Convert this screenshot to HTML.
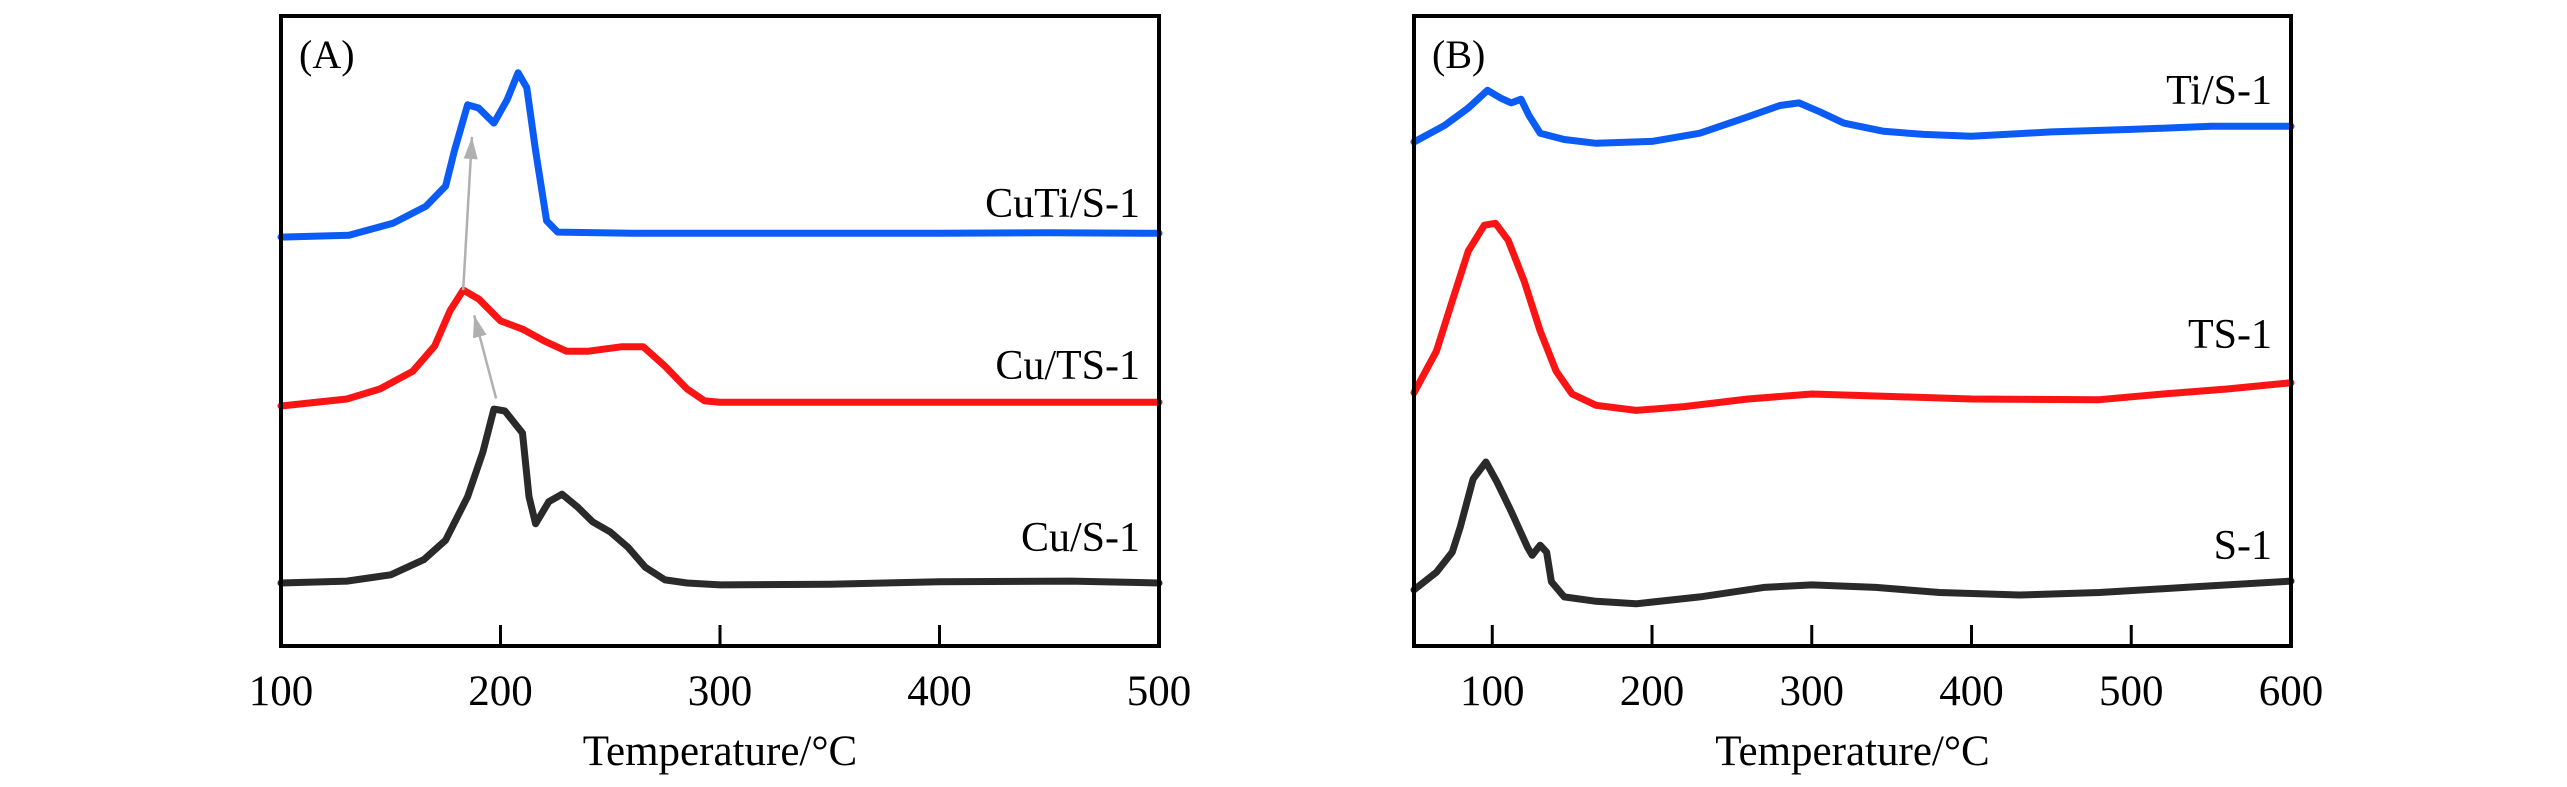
<!DOCTYPE html>
<html><head><meta charset="utf-8"><style>
html,body{margin:0;padding:0;background:#fff;}
svg{display:block;font-family:"Liberation Serif","Times New Roman",serif;}
</style></head><body>
<svg id="chart" width="2567" height="787" viewBox="0 0 2567 787" xmlns="http://www.w3.org/2000/svg"></svg>
<script>
// Panel A data
const aTicks = [100, 200, 300, 400, 500];
const aCuTiT = [100,131,151,166,175,179,185,190,197,203,208,212,216,221,226,260,300,350,400,450,500];
const aCuTiV = [64.9,65.2,67.1,69.8,73.0,78.6,85.9,85.4,83.0,86.7,91.0,88.6,78.6,67.5,65.7,65.5,65.5,65.5,65.5,65.6,65.5];
const aCuTST = [100,130,145,160,170,177,183,190,200,210,220,230,240,255,265,275,285,293,300,350,400,450,500];
const aCuTSV = [38.1,39.2,40.8,43.6,47.6,53.2,56.5,55.1,51.6,50.3,48.4,46.8,46.8,47.5,47.5,44.4,40.8,38.9,38.7,38.7,38.7,38.7,38.7];
const aCuST = [100,130,150,165,175,185,192,197,202,210,213,216,222,228,235,242,250,258,266,275,285,300,350,400,460,500];
const aCuSV = [10.0,10.3,11.3,13.7,16.8,23.7,30.8,37.6,37.3,33.8,23.7,19.4,22.9,24.1,22.1,19.7,18.1,15.7,12.5,10.5,10.0,9.7,9.8,10.2,10.3,10.0];
// arrows: [fromT, fromV, toT, toV]
const aArrow1 = [198, 39.3, 188, 52.5];
const aArrow2 = [183, 56.5, 187, 80.8];
// Panel B data
const bTicks = [100, 200, 300, 400, 500, 600];
const bTiST = [51,70,85,97,105,112,118,123,130,145,165,200,230,260,280,292,305,320,345,370,400,450,500,550,600];
const bTiSV = [80.0,82.6,85.4,88.2,87.0,86.2,86.8,84.2,81.4,80.4,79.8,80.1,81.4,84.0,85.8,86.2,84.8,83.0,81.7,81.2,80.9,81.6,82.0,82.5,82.5];
const bTST = [51,65,75,85,95,102,110,120,130,140,150,165,190,220,260,300,350,400,480,520,560,600];
const bTSV = [40.2,46.8,54.8,62.7,66.8,67.1,64.4,57.9,50.0,43.6,40.0,38.2,37.4,38.0,39.2,40.0,39.6,39.2,39.1,40.0,40.8,41.8];
const bST = [51,65,75,80,88,96,103,112,122,125,130,134,137,145,165,190,230,270,300,340,380,430,480,540,600];
const bSV = [8.9,11.7,14.9,18.9,26.5,29.2,26.0,21.3,15.7,14.4,16.0,14.9,10.2,7.8,7.1,6.7,7.8,9.3,9.7,9.3,8.5,8.1,8.5,9.4,10.3];

const NS = "http://www.w3.org/2000/svg";
const svg = document.getElementById('chart');
function mk(tag, attrs, parent){const e=document.createElementNS(NS,tag);for(const k in attrs)e.setAttribute(k,attrs[k]);(parent||svg).appendChild(e);return e;}

const TOP=16, BOT=646;
function yScale(v){return BOT-(v/100)*(BOT-TOP);}

function panel(cfg){
  const g=mk('g',{});
  
  
  const xs=t=>cfg.left+(t-cfg.xmin)/(cfg.xmax-cfg.xmin)*(cfg.right-cfg.left);
  cfg.series.forEach(s=>{
    let d='';
    s.t.forEach((t,i)=>{d+=(i?'L':'M')+xs(t).toFixed(1)+' '+yScale(s.v[i]).toFixed(1);});
    const p=mk('path',{d:d,fill:'none',stroke:s.color,'stroke-width':7,'stroke-linejoin':'round','stroke-linecap':'round'},g);
    
    
    const lab=mk('text',{x:cfg.right-19,y:s.ly,'text-anchor':'end','font-size':42,fill:'#000'},g);
    lab.textContent=s.label;
    
    
  });
  (cfg.arrows||[]).forEach((a,i)=>{
    const x1=xs(a[0]),y1=yScale(a[1]),x2=xs(a[2]),y2=yScale(a[3]);
    const ln=mk('line',{x1:x1,y1:y1,x2:x2,y2:y2,stroke:'#b0b0b0','stroke-width':2.5},g);
    
    
    const ang=Math.atan2(y2-y1,x2-x1), L=22, W=7;
    const bx=x2-L*Math.cos(ang), by=y2-L*Math.sin(ang);
    const px=-Math.sin(ang)*W, py=Math.cos(ang)*W;
    const hd=mk('polygon',{points:`${x2},${y2} ${bx+px},${by+py} ${bx-px},${by-py}`,fill:'#b0b0b0'},g);
    
    
  });
  const fr=mk('rect',{x:cfg.left,y:TOP,width:cfg.right-cfg.left,height:BOT-TOP,fill:'none',stroke:'#000','stroke-width':4},g);
  
  
  cfg.ticks.forEach(t=>{
    const x=xs(t);
    if(t>cfg.xmin && t<cfg.xmax){
      const tk=mk('line',{x1:x,y1:BOT,x2:x,y2:BOT-21,stroke:'#000','stroke-width':3},g);
      
      
    }
    const tl=mk('text',{x:x,y:705,'text-anchor':'middle','font-size':43,fill:'#000'},g);
    tl.textContent=t;
    
    
  });
  const tt=mk('text',{x:(cfg.left+cfg.right)/2,y:765,'text-anchor':'middle','font-size':43,fill:'#000'},g);
  tt.textContent='Temperature/°C';
  
  
  const pl=mk('text',{x:cfg.left+18,y:68,'font-size':40,fill:'#000'},g);
  pl.textContent=cfg.tag;
  
  
}

panel({name:'panel-a',tag:'(A)',left:281,right:1159,xmin:100,xmax:500,ticks:aTicks,
  series:[
    {name:'cuti-s1-curve',label:'CuTi/S-1',t:aCuTiT,v:aCuTiV,color:'#0b5cf5',ly:217},
    {name:'cu-ts1-curve',label:'Cu/TS-1',t:aCuTST,v:aCuTSV,color:'#fa1414',ly:379},
    {name:'cu-s1-curve',label:'Cu/S-1',t:aCuST,v:aCuSV,color:'#2a2a2a',ly:551}
  ],
  arrows:[aArrow1,aArrow2]});
panel({name:'panel-b',tag:'(B)',left:1414,right:2291,xmin:51,xmax:600,ticks:bTicks,
  series:[
    {name:'ti-s1-curve',label:'Ti/S-1',t:bTiST,v:bTiSV,color:'#0b5cf5',ly:104},
    {name:'ts1-curve',label:'TS-1',t:bTST,v:bTSV,color:'#fa1414',ly:348},
    {name:'s1-curve',label:'S-1',t:bST,v:bSV,color:'#2a2a2a',ly:559}
  ]});
</script>
</body></html>
